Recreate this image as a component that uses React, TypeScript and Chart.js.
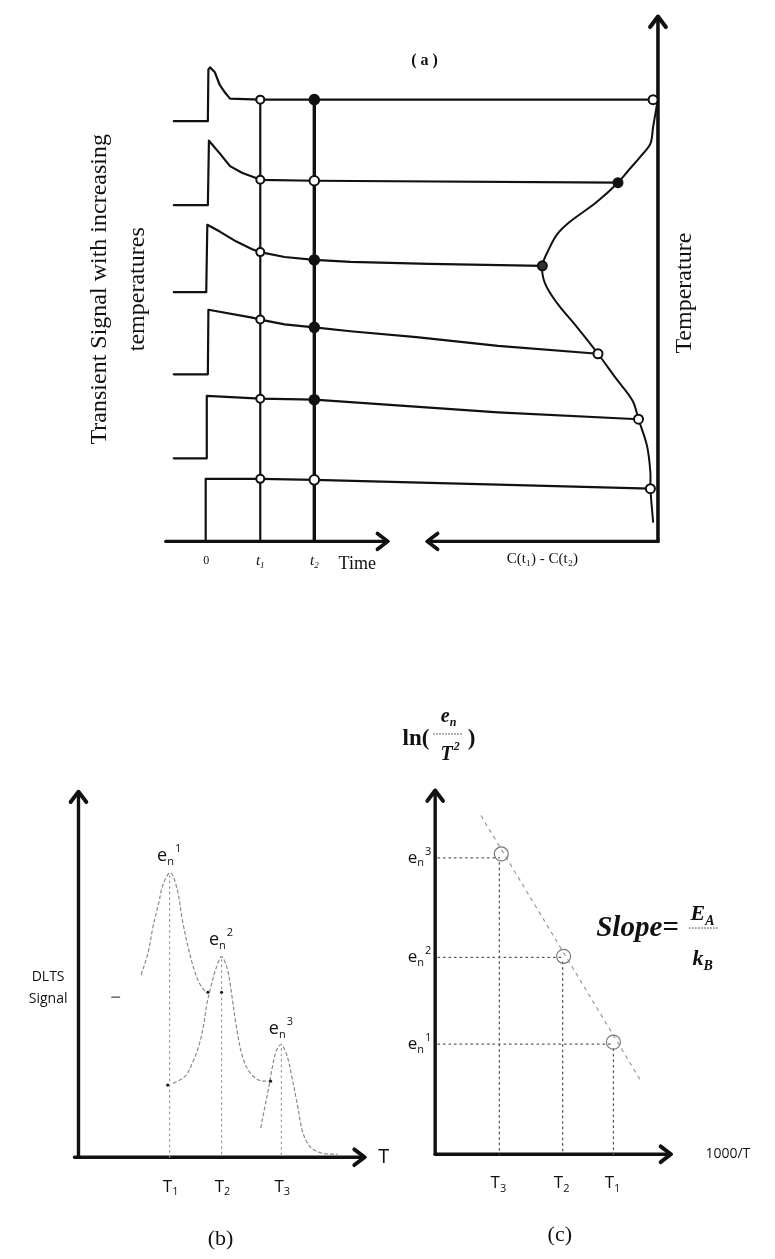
import React, { useEffect, useRef } from "react";
import { Chart, registerables } from "chart.js";
Chart.register(...registerables);

const SERIF = '"Liberation Serif", "DejaVu Serif", serif';
const SANS = '"Open Sans", "Liberation Sans", sans-serif';

// ---------- Panel (a): transients (time units: t1 = 1, t2 = 2; signal in arbitrary units) ----------
const tr1T = [-0.6, 0.03, 0.04, 0.07, 0.16, 0.25, 0.35, 0.44, 1, 2, 8.3];
const tr1V = [43.0, 43.0, 48.3, 48.5, 48.0, 46.7, 45.9, 45.3, 45.2, 45.2, 45.2];
const tr2T = [-0.6, 0.03, 0.05, 0.25, 0.44, 0.67, 0.91, 1, 2, 7.62];
const tr2V = [34.4, 34.4, 41.0, 39.7, 38.4, 37.7, 37.2, 37.0, 36.9, 36.7];
const tr3T = [-0.6, 0.0, 0.02, 0.25, 0.55, 0.85, 1, 1.45, 2, 2.67, 4.13, 6.22];
const tr3V = [25.5, 25.5, 32.4, 31.7, 30.7, 29.9, 29.6, 29.1, 28.8, 28.6, 28.4, 28.2];
const tr4T = [-0.6, 0.03, 0.04, 0.85, 1, 1.45, 2, 2.67, 3.89, 5.4, 7.25];
const tr4V = [17.1, 17.1, 23.7, 22.9, 22.7, 22.2, 21.9, 21.5, 20.9, 20.0, 19.2];
const tr5T = [-0.6, 0, 0.01, 1, 2, 5.4, 8.0];
const tr5V = [8.5, 8.5, 14.9, 14.6, 14.5, 13.2, 12.5];
const tr6T = [-0.02, -0.01, 1, 2, 5.4, 8.22];
const tr6V = [0, 6.4, 6.4, 6.3, 5.8, 5.4];

const t1Marks = [45.2, 37.0, 29.6, 22.7, 14.6, 6.4];
const t2Marks = [45.2, 36.9, 28.8, 21.9, 14.5, 6.3];
const rateT = [8.27, 7.62, 6.22, 7.25, 8.0, 8.22];
const rateV = [45.2, 36.7, 28.2, 19.2, 12.5, 5.4];

const respT = [8.35, 8.27, 8.22, 8.04, 7.82, 7.62, 7.22, 6.73, 6.49, 6.35, 6.22, 6.27, 6.49, 6.85, 7.25, 7.58, 7.89, 8.0, 8.16, 8.22, 8.22, 8.27];
const respV = [45.0, 42.4, 40.7, 39.4, 38.0, 36.7, 34.7, 32.7, 31.4, 30.0, 28.2, 26.4, 24.4, 22.0, 19.2, 16.7, 14.4, 12.5, 9.7, 7.0, 5.4, 2.0];

const timeTicks = ["0", "t", "t"];
const timeTickSubs = ["", "1", "2"];
const timeTickPos = [0, 1, 2];

// ---------- Panel (b): DLTS spectrum ----------
const peak1T = [6.4, 7.1, 7.6, 8.2, 8.7, 9.4, 10.1, 10.6, 11.2, 11.8, 12.4, 13.0];
const peak1S = [18.5, 20.7, 23.3, 25.8, 27.8, 28.8, 27.0, 24.0, 21.2, 19.0, 17.5, 16.7];
const peak2T = [9.7, 10.9, 11.6, 12.2, 12.7, 13.1, 13.5, 14.0, 14.6, 15.2, 15.6, 16.1, 16.7, 17.4, 18.4, 19.6];
const peak2S = [7.5, 8.2, 9.5, 11.0, 13.0, 15.5, 17.2, 19.0, 20.3, 19.0, 16.7, 13.3, 10.3, 8.7, 7.8, 7.7];
const peak3T = [18.6, 19.0, 19.4, 19.8, 20.2, 20.7, 21.3, 21.8, 22.3, 22.9, 23.7, 24.9, 26.4];
const peak3S = [3.0, 5.0, 7.0, 9.2, 10.8, 11.4, 10.2, 8.0, 5.5, 2.5, 1.0, 0.4, 0.3];
const stubT = [3.4, 4.2];
const stubS = [16.2, 16.2];
const peakPosT = [9.3, 14.6, 20.7];
const peakTopS = [28.5, 20.0, 11.0];
const dotT = [9.1, 19.6, 13.2, 14.6];
const dotS = [7.3, 7.7, 16.7, 16.7];
const peakLabels = ["1", "2", "3"];

// ---------- Panel (c): Arrhenius plot ----------
const invT = [6.7, 13.3, 18.6];
const lnRate = [30.4, 20.2, 11.3];
const circleX = [6.9, 13.4, 18.6];
const circleY = [30.8, 20.3, 11.5];
const fitX = [4.8, 21.6];
const fitY = [34.7, 7.3];
const arrLabels = ["3", "2", "1"];
const arrTicks = ["3", "2", "1"];

type Lbl = {
  text: string; x: number; y: number; size: number; family: string; style?: string;
  align?: "left" | "center" | "right"; rotate?: number; sub?: string; sup?: string; color?: string;
};
type Bar = { x1: number; x2: number; y: number; dash?: number[]; width?: number };

function drawLabel(ctx: CanvasRenderingContext2D, chart: any, L: Lbl) {
  const px = chart.scales.x.getPixelForValue(L.x);
  const py = chart.scales.y.getPixelForValue(L.y);
  ctx.save();
  ctx.translate(px, py);
  if (L.rotate) ctx.rotate(L.rotate);
  ctx.fillStyle = L.color || "#111";
  ctx.textBaseline = "middle";
  ctx.textAlign = "left";
  const st = L.style ? L.style + " " : "";
  const mainFont = `${st}${L.size}px ${L.family}`;
  const small = Math.round(L.size * 0.62);
  const smallFont = `${st}${small}px ${L.family}`;
  ctx.font = mainFont;
  const mw = ctx.measureText(L.text).width;
  ctx.font = smallFont;
  const sw = L.sub ? ctx.measureText(L.sub).width : 0;
  const pw = L.sup ? ctx.measureText(L.sup).width : 0;
  const total = mw + sw + pw;
  const x0 = L.align === "center" ? -total / 2 : L.align === "right" ? -total : 0;
  ctx.font = mainFont;
  ctx.fillText(L.text, x0, 0);
  ctx.font = smallFont;
  if (L.sub) ctx.fillText(L.sub, x0 + mw, L.size * 0.32);
  if (L.sup) ctx.fillText(L.sup, x0 + mw + sw + 1, -L.size * 0.38);
  ctx.restore();
}

function makeDecor(labels: Lbl[], bars: Bar[]) {
  return {
    id: "decor",
    afterDatasetsDraw(chart: any) {
      const ctx: CanvasRenderingContext2D = chart.ctx;
      chart.data.datasets.forEach((ds: any, i: number) => {
        if (!ds.arrow) return;
        const p = chart.getDatasetMeta(i).data;
        const a = p[p.length - 2];
        const b = p[p.length - 1];
        const ang = Math.atan2(b.y - a.y, b.x - a.x);
        const L = ds.arrowSize || 13;
        ctx.save();
        ctx.strokeStyle = ds.borderColor;
        ctx.lineWidth = ds.borderWidth + 0.5;
        ctx.lineCap = "round";
        ctx.lineJoin = "round";
        ctx.beginPath();
        ctx.moveTo(b.x - L * Math.cos(ang - 0.65), b.y - L * Math.sin(ang - 0.65));
        ctx.lineTo(b.x, b.y);
        ctx.lineTo(b.x - L * Math.cos(ang + 0.65), b.y - L * Math.sin(ang + 0.65));
        ctx.stroke();
        ctx.restore();
      });
      bars.forEach((B) => {
        const x1 = chart.scales.x.getPixelForValue(B.x1);
        const x2 = chart.scales.x.getPixelForValue(B.x2);
        const y = chart.scales.y.getPixelForValue(B.y);
        ctx.save();
        ctx.strokeStyle = "#333";
        ctx.lineWidth = B.width || 1;
        ctx.setLineDash(B.dash || []);
        ctx.beginPath();
        ctx.moveTo(x1, y);
        ctx.lineTo(x2, y);
        ctx.stroke();
        ctx.restore();
      });
      labels.forEach((L) => drawLabel(ctx, chart, L));
    },
  };
}

const pts = (xs: number[], ys: number[]) => xs.map((x, i) => ({ x, y: ys[i] }));
const line = (xs: number[], ys: number[], opt: any = {}) => ({
  data: pts(xs, ys), showLine: true, pointRadius: 0, borderColor: "#111", borderWidth: 2.2,
  fill: false, tension: 0, order: 5, borderCapStyle: "round", borderJoinStyle: "round", ...opt,
});
const marks = (xs: number[], ys: number[], opt: any = {}) => ({
  data: pts(xs, ys), showLine: false, pointRadius: 4.5, pointBackgroundColor: "#fff",
  pointBorderColor: "#111", pointBorderWidth: 2, order: 0, ...opt,
});

function Panel(props: any) {
  const ref = useRef<HTMLCanvasElement>(null);
  useEffect(() => {
    const chart = new Chart(ref.current as HTMLCanvasElement, {
      type: "scatter",
      data: { datasets: props.datasets },
      options: {
        responsive: false,
        animation: false,
        devicePixelRatio: 1,
        events: [],
        layout: { padding: 0 },
        plugins: { legend: { display: false }, tooltip: { enabled: false }, title: { display: false } },
        scales: {
          x: { type: "linear", display: false, min: props.xMin, max: props.xMax },
          y: { type: "linear", display: false, min: props.yMin, max: props.yMax },
        },
      } as any,
      plugins: [makeDecor(props.labels, props.bars || [])],
    } as any);
    return () => chart.destroy();
  }, []);
  return (
    <canvas
      ref={ref}
      width={props.width}
      height={props.height}
      style={{ position: "absolute", left: props.left, top: props.top, width: props.width, height: props.height }}
    />
  );
}

function panelA() {
  const trT = [tr1T, tr2T, tr3T, tr4T, tr5T, tr6T];
  const trV = [tr1V, tr2V, tr3V, tr4V, tr5V, tr6V];
  const datasets: any[] = [];
  trT.forEach((t, i) => datasets.push(line(t, trV[i])));
  datasets.push(line([timeTickPos[1], timeTickPos[1]], [t1Marks[0], 0], { borderWidth: 2.2 }));
  datasets.push(line([timeTickPos[2], timeTickPos[2]], [t2Marks[0], 0], { borderWidth: 3.4 }));
  datasets.push(line(respT, respV, { tension: 0.35, borderWidth: 2 }));
  datasets.push(line([-0.75, 3.36], [0, 0], { borderWidth: 3.2, arrow: true }));
  datasets.push(line([8.36, 4.09], [0, 0], { borderWidth: 3.2, arrow: true }));
  datasets.push(line([8.36, 8.36], [0, 53.7], { borderWidth: 3.6, arrow: true }));
  datasets.push(marks(t1Marks.map(() => timeTickPos[1]), t1Marks, { pointRadius: 4 }));
  datasets.push(marks(t2Marks.map(() => timeTickPos[2]), t2Marks, { pointRadius: 4.8, pointBackgroundColor: ["#111", "#fff", "#111", "#111", "#111", "#fff"] }));
  datasets.push(marks(rateT, rateV, { pointRadius: 4.5, pointBackgroundColor: ["#fff", "#111", "#333", "#fff", "#fff", "#fff"] }));

  const labels: Lbl[] = [
    { text: "( a )", x: 4.04, y: 49.2, size: 16, family: SERIF, style: "bold", align: "center" },
    { text: "Time", x: 2.45, y: -2.3, size: 18, family: SERIF, align: "left" },
    { text: "C(t\u2081) - C(t\u2082)", x: 6.22, y: -1.8, size: 15, family: SERIF, align: "center" },
    { text: "Temperature", x: 8.85, y: 25.4, size: 24, family: SERIF, align: "center", rotate: -Math.PI / 2 },
    { text: "Transient Signal with increasing", x: -1.98, y: 25.8, size: 24, family: SERIF, align: "center", rotate: -Math.PI / 2 },
    { text: "temperatures", x: -1.27, y: 25.8, size: 24, family: SERIF, align: "center", rotate: -Math.PI / 2 },
  ];
  timeTicks.forEach((tk, i) =>
    labels.push({ text: tk, sub: timeTickSubs[i] || undefined, x: timeTickPos[i], y: -2.0, size: i === 0 ? 12 : 15, family: SERIF, style: i === 0 ? "" : "italic", align: "center" })
  );
  return { datasets, labels };
}

function panelB() {
  const grey = "#8a8a8a";
  const datasets: any[] = [
    line(peak1T, peak1S, { borderColor: grey, borderWidth: 1.2, borderDash: [3, 3], tension: 0.35 }),
    line(peak2T, peak2S, { borderColor: grey, borderWidth: 1.2, borderDash: [3, 3], tension: 0.35 }),
    line(peak3T, peak3S, { borderColor: grey, borderWidth: 1.2, borderDash: [3, 3], tension: 0.35 }),
    line(stubT, stubS, { borderColor: "#444", borderWidth: 1.2 }),
  ];
  peakPosT.forEach((t, i) =>
    datasets.push(line([t, t], [peakTopS[i], 0], { borderColor: "#999", borderWidth: 1.2, borderDash: [1.5, 4] }))
  );
  datasets.push(line([0, 0], [0, 37.0], { borderWidth: 3.4, arrow: true }));
  datasets.push(line([-0.4, 29.2], [0, 0], { borderWidth: 3.4, arrow: true }));
  datasets.push(marks(dotT, dotS, { pointRadius: 1.6, pointBackgroundColor: "#222", pointBorderWidth: 0 }));
  const labels: Lbl[] = [
    { text: "DLTS", x: -3.1, y: 18.2, size: 14, family: SANS, align: "center" },
    { text: "Signal", x: -3.1, y: 16.0, size: 14, family: SANS, align: "center" },
    { text: "T", x: 30.6, y: 0, size: 20, family: SANS, align: "left" },
    { text: "(b)", x: 14.5, y: -8.3, size: 22, family: SERIF, align: "center" },
  ];
  peakPosT.forEach((t, i) => {
    labels.push({ text: "T", sub: peakLabels[i], x: t + 0.1, y: -3.0, size: 17, family: SANS, align: "center" });
    labels.push({ text: "e", sub: "n", sup: peakLabels[i], x: t - 0.1, y: peakTopS[i] + 2.0, size: 18, family: SANS, align: "center" });
  });
  return { datasets, labels };
}

function panelC() {
  const datasets: any[] = [];
  invT.forEach((x, i) => {
    datasets.push(line([0.3, x], [lnRate[i], lnRate[i]], { borderColor: "#555", borderWidth: 1.3, borderDash: [1.5, 4] }));
    datasets.push(line([x, x], [lnRate[i] - 0.5, 0], { borderColor: "#555", borderWidth: 1.3, borderDash: [1.5, 4] }));
  });
  datasets.push(line(fitX, fitY, { borderColor: "#999", borderWidth: 1.2, borderDash: [3, 5] }));
  datasets.push(line([0, 0], [0, 37.3], { borderWidth: 3.4, arrow: true }));
  datasets.push(line([0, 24.6], [0, 0], { borderWidth: 3.4, arrow: true }));
  datasets.push(marks(circleX, circleY, { pointRadius: 7, pointBackgroundColor: "rgba(0,0,0,0)", pointBorderColor: "#777", pointBorderWidth: 1.2 }));
  const labels: Lbl[] = [
    { text: "1000/T", x: 28.2, y: 0, size: 14, family: SANS, align: "left" },
    { text: "(c)", x: 13.0, y: -8.3, size: 22, family: SERIF, align: "center" },
    { text: "ln(", x: -3.4, y: 42.6, size: 23, family: SERIF, style: "bold", align: "left" },
    { text: "e", sub: "n", x: 1.4, y: 44.9, size: 20, family: SERIF, style: "bold italic", align: "center" },
    { text: "T", sup: "2", x: 1.5, y: 41.0, size: 20, family: SERIF, style: "bold italic", align: "center" },
    { text: ")", x: 3.4, y: 42.6, size: 23, family: SERIF, style: "bold", align: "left" },
    { text: "Slope=", x: 16.8, y: 23.2, size: 29, family: SERIF, style: "bold italic", align: "left" },
    { text: "E", sub: "A", x: 27.9, y: 24.6, size: 22, family: SERIF, style: "bold italic", align: "center" },
    { text: "k", sub: "B", x: 27.9, y: 20.0, size: 22, family: SERIF, style: "bold italic", align: "center" },
  ];
  invT.forEach((x, i) => {
    labels.push({ text: "T", sub: arrTicks[i], x: x - 0.1, y: -3.0, size: 17, family: SANS, align: "center" });
    labels.push({ text: "e", sub: "n", sup: arrLabels[i], x: -0.5, y: lnRate[i], size: 17, family: SANS, align: "right" });
  });
  const bars: Bar[] = [
    { x1: -0.2, x2: 2.9, y: 43.1, dash: [1.5, 1.5], width: 1 },
    { x1: 26.5, x2: 29.5, y: 23.2, dash: [1.5, 1.5], width: 1 },
  ];
  return { datasets, labels, bars };
}

export default function App() {
  const a = panelA();
  const b = panelB();
  const c = panelC();
  return (
    <div style={{ position: "absolute", left: 0, top: 0, width: 775, height: 1259, background: "#fff", overflow: "hidden" }}>
      <Panel left={0} top={0} width={775} height={600} xMin={-203 / 55} xMax={572 / 55} yMin={-5.3} yMax={54.7} {...a} />
      <Panel left={0} top={600} width={400} height={659} xMin={-7.6} xMax={32.4} yMin={-9.9} yMax={56} {...b} />
      <Panel left={380} top={600} width={395} height={659} xMin={-4.9} xMax={34.6} yMin={-9.9} yMax={56} {...c} />
    </div>
  );
}
